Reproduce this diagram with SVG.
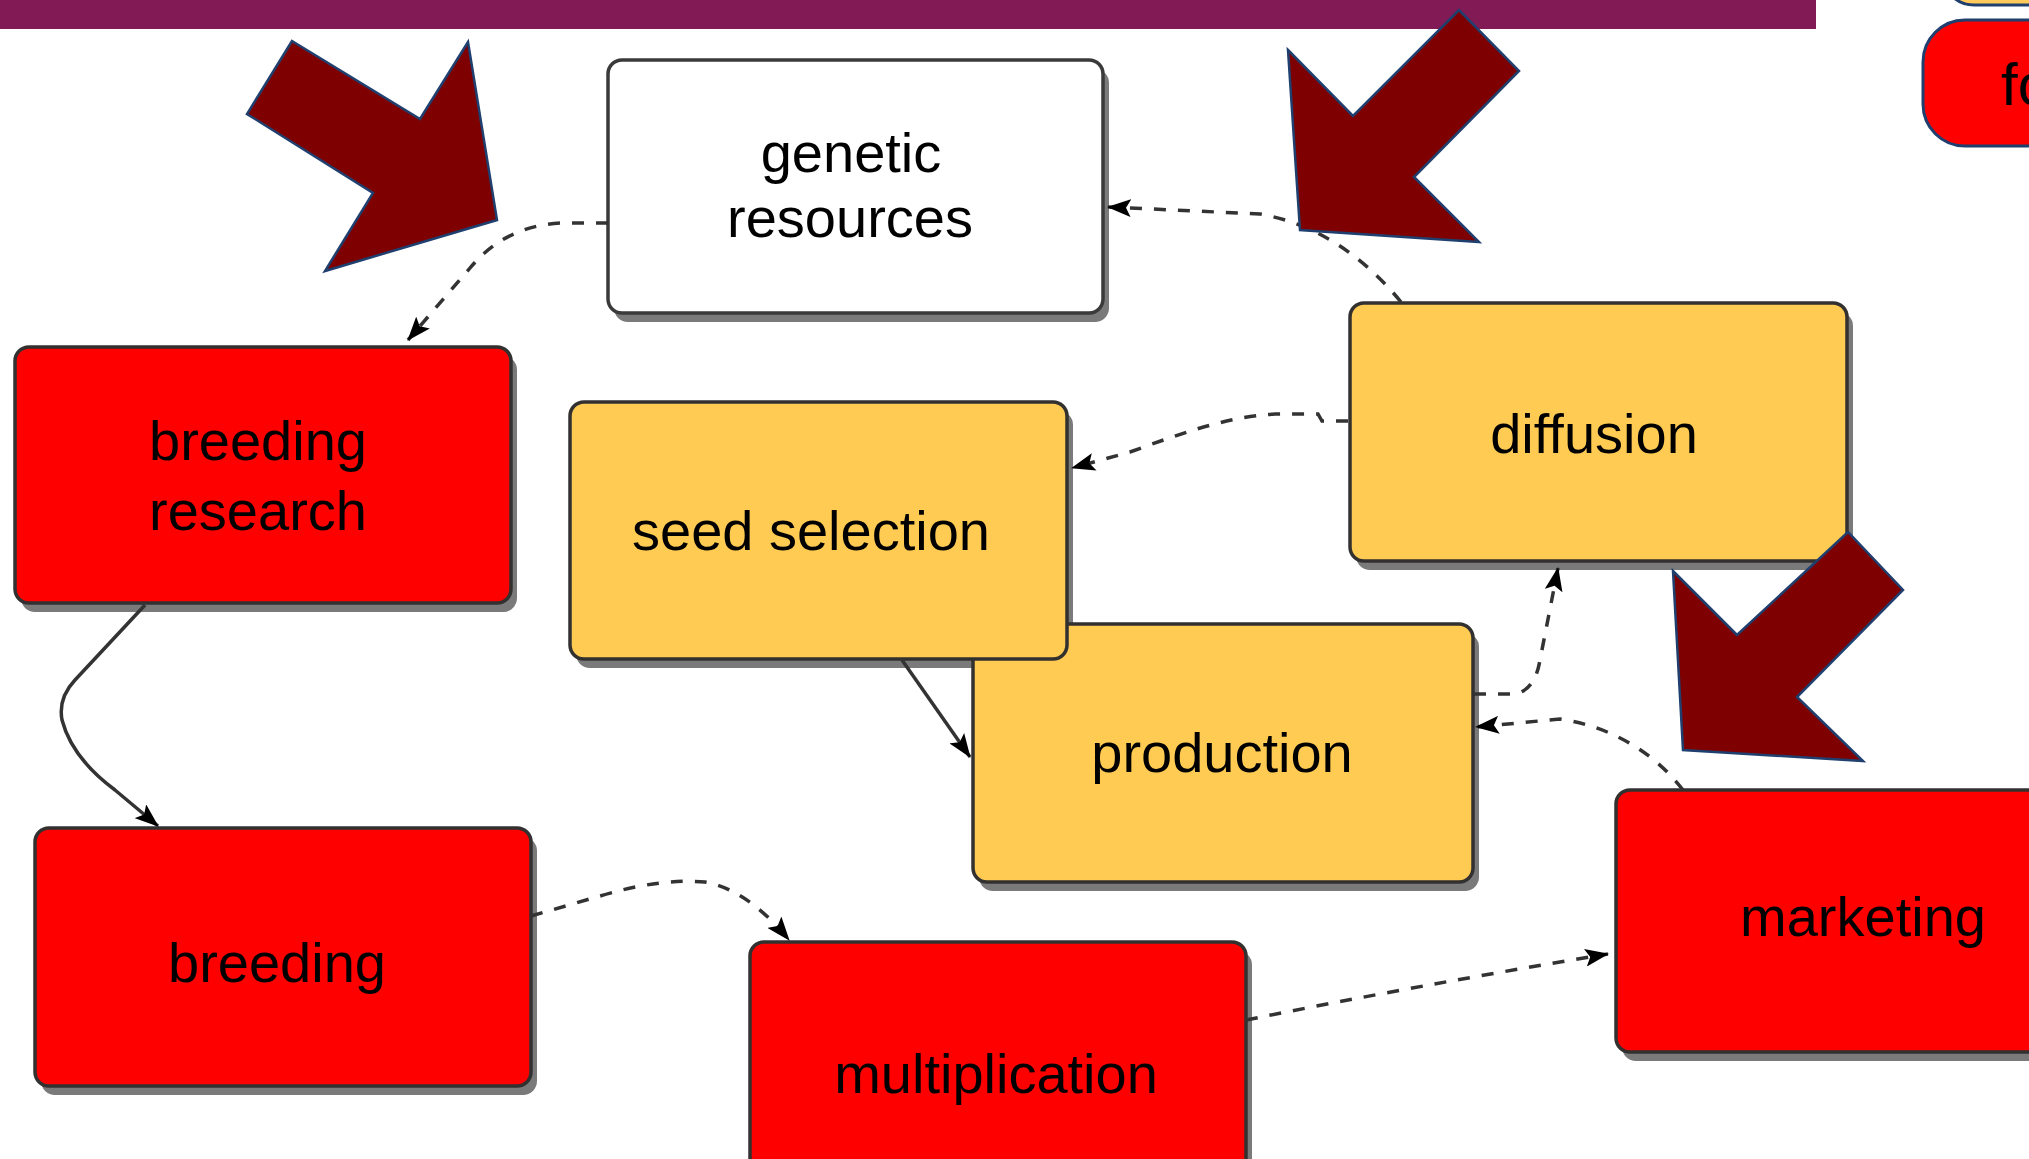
<svg xmlns="http://www.w3.org/2000/svg" width="2029" height="1159" viewBox="0 0 2029 1159">
<defs>
<style>
.shadow{fill:#7a7a7a}
.box{stroke:#333030;stroke-width:3.5}
.red{fill:#ff0000}
.yel{fill:#ffcb52}
.wht{fill:#ffffff;stroke:#3a3a3a}
.lbl{font-family:"Liberation Sans",Arial,sans-serif;font-size:56px;fill:#000;text-anchor:middle}
.big{fill:#7f0000;stroke:#1f3f6f;stroke-width:2.5;stroke-linejoin:miter}
.dash{fill:none;stroke:#333333;stroke-width:3.5;stroke-dasharray:12 12}
.solid{fill:none;stroke:#333333;stroke-width:3.5}
</style>
<marker id="ah" viewBox="0 0 24 18" refX="23" refY="9" markerWidth="24" markerHeight="18" markerUnits="userSpaceOnUse" orient="auto">
<path d="M0,0 L24,9 L0,18 L5,9 Z" fill="#000"/>
</marker>
</defs>
<rect width="2029" height="1159" fill="#ffffff"/>
<rect x="0" y="0" width="1816" height="29" fill="#821a56"/>

<g id="top-right-partial">
<rect x="1942" y="-80" width="220" height="85" rx="32" fill="#ffc95b" stroke="#1f3f6f" stroke-width="3"/>
<rect x="1923" y="20" width="220" height="126" rx="42" fill="#ff0000" stroke="#1f3f6f" stroke-width="3"/>
<text x="2001" y="105" font-family="Liberation Sans, Arial, sans-serif" font-size="60" fill="#000">fo</text>
</g>

<g id="shadows">
<rect class="shadow" x="614" y="69" width="495" height="253" rx="14"/>
<rect class="shadow" x="21" y="356" width="496" height="256" rx="14"/>
<rect class="shadow" x="1356" y="312" width="497" height="258" rx="14"/>
<rect class="shadow" x="576" y="411" width="497" height="257" rx="14"/>
<rect class="shadow" x="979" y="633" width="500" height="258" rx="14"/>
<rect class="shadow" x="41" y="837" width="496" height="258" rx="14"/>
<rect class="shadow" x="756" y="951" width="496" height="258" rx="14"/>
<rect class="shadow" x="1622" y="799" width="497" height="262" rx="14"/>
</g>

<g id="node-genetic-resources">
<rect class="box wht" x="608" y="60" width="495" height="253" rx="14"/>
<text class="lbl" x="851" y="172">genetic</text>
<text class="lbl" x="850" y="237">resources</text>
</g>

<g id="node-breeding-research">
<rect class="box red" x="15" y="347" width="496" height="256" rx="14"/>
<text class="lbl" x="258" y="460">breeding</text>
<text class="lbl" x="258" y="530">research</text>
</g>

<g id="node-diffusion">
<rect class="box yel" x="1350" y="303" width="497" height="258" rx="14"/>
<text class="lbl" x="1594" y="453">diffusion</text>
</g>

<g id="node-production">
<rect class="box yel" x="973" y="624" width="500" height="258" rx="14"/>
<text class="lbl" x="1222" y="772">production</text>
</g>

<g id="node-seed-selection">
<rect class="box yel" x="570" y="402" width="497" height="257" rx="14"/>
<text class="lbl" x="811" y="550">seed selection</text>
</g>

<g id="node-breeding">
<rect class="box red" x="35" y="828" width="496" height="258" rx="14"/>
<text class="lbl" x="277" y="982">breeding</text>
</g>

<g id="node-multiplication">
<rect class="box red" x="750" y="942" width="496" height="258" rx="14"/>
<text class="lbl" x="996" y="1093">multiplication</text>
</g>

<g id="node-marketing">
<rect class="box red" x="1616" y="790" width="497" height="262" rx="14"/>
<text class="lbl" x="1863" y="936">marketing</text>
</g>

<g id="connectors">
<path class="dash" d="M608,223 L560,223 Q505,226 470,268 L408,340" marker-end="url(#ah)"/>
<path class="dash" d="M1401,302 Q1340,228 1260,214 L1108,207" marker-end="url(#ah)"/>
<path class="dash" d="M1348,421 L1322,421 L1318,414 L1275,414 C1225,417 1180,434 1130,452 L1072,468" marker-end="url(#ah)"/>
<path class="solid" d="M902,660 L970,757" marker-end="url(#ah)"/>
<path class="solid" d="M145,605 L75,680 Q58,698 62,720 Q72,758 115,790 L158,826" marker-end="url(#ah)"/>
<path class="dash" d="M531,916 L600,896 Q660,878 705,882 Q748,890 789,940" marker-end="url(#ah)"/>
<path class="dash" d="M1246,1020 Q1420,985 1608,954" marker-end="url(#ah)"/>
<path class="dash" d="M1474,694 L1515,694 Q1535,690 1540,660 L1558,568" marker-end="url(#ah)"/>
<path class="dash" d="M1683,790 C1660,760 1620,728 1560,719 L1476,727" marker-end="url(#ah)"/>
</g>

<g id="big-arrows">
<polygon class="big" points="292,41 420,119 468,42 497,220 325,271 373,193 247,114"/>
<polygon class="big" points="1288,50 1353,116 1459,10 1519,71 1414,177 1479,242 1300,230"/>
<polygon class="big" points="1673,571 1737,635 1848,532 1903,590 1797,697 1863,761 1683,750"/>
</g>
</svg>
